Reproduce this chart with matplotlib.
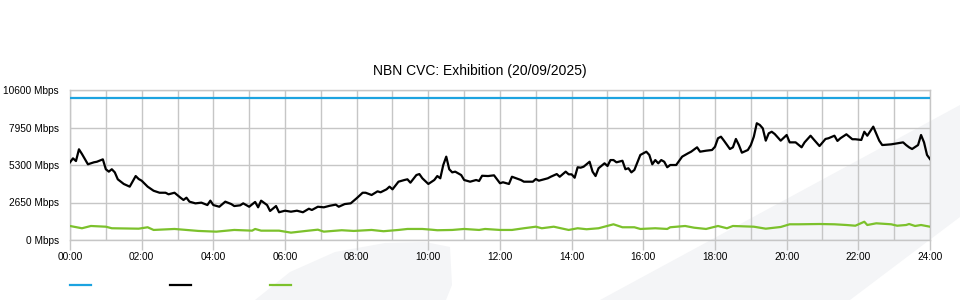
import numpy as np
import matplotlib as mp
mp.use('Agg')
import matplotlib.pyplot as plt
from matplotlib.patches import Polygon
from matplotlib.lines import Line2D
from matplotlib.ticker import MultipleLocator, FuncFormatter

plt.rcParams['font.family'] = ['Liberation Sans', 'DejaVu Sans']

title = "NBN CVC: Exhibition (20/09/2025)"

# capacity (blue), constant
cap_mbps = 10000

# traffic in (black): minutes since midnight, Mbps
t_in = [0, 5, 10, 15, 20, 30, 40, 45, 55, 60, 65, 70, 75, 80, 90, 100, 110, 115,
        120, 130, 140, 150, 160, 165, 175, 185, 190, 195, 200, 210, 220, 230, 235,
        240, 250, 260, 270, 275, 285, 290, 300, 310, 315, 320, 330, 335, 345, 350,
        360, 370, 380, 390, 400, 405, 415, 425, 435, 445, 450, 460, 470, 480, 490,
        495, 505, 515, 520, 530, 535, 540, 550, 560, 565, 570, 580, 585, 590, 600,
        610, 615, 620, 625, 630, 635, 640, 645, 655, 660, 670, 680, 685, 690, 700,
        710, 720, 725, 735, 740, 755, 760, 775, 780, 785, 800, 805, 815, 820, 830,
        835, 840, 845, 850, 855, 860, 870, 875, 880, 885, 895, 900, 905, 910, 915,
        925, 930, 935, 940, 945, 955, 965, 970, 975, 980, 985, 990, 995, 1000, 1005,
        1015, 1025, 1035, 1040, 1050, 1055, 1065, 1075, 1080, 1085, 1090, 1095,
        1105, 1110, 1115, 1120, 1125, 1135, 1140, 1145, 1150, 1155, 1160, 1165,
        1170, 1175, 1180, 1190, 1200, 1205, 1215, 1225, 1230, 1240, 1245, 1255,
        1265, 1270, 1280, 1285, 1290, 1300, 1310, 1315, 1325, 1330, 1335, 1345,
        1355, 1360, 1375, 1385, 1395, 1400, 1405, 1410, 1420, 1425, 1430, 1435, 1440]
v_in = [5490, 5770, 5580, 6410, 6080, 5350, 5490, 5530, 5700, 5000, 4830, 5000, 4780,
        4290, 3960, 3770, 4520, 4310, 4190, 3770, 3480, 3340, 3340, 3230, 3340, 2990,
        2830, 2990, 2710, 2590, 2640, 2470, 2780, 2470, 2350, 2710, 2540, 2400, 2450,
        2590, 2350, 2690, 2310, 2780, 2470, 2050, 2400, 1960, 2070, 2000, 2070, 1960,
        2210, 2120, 2350, 2310, 2420, 2500, 2350, 2540, 2590, 2950, 3340, 3340, 3180,
        3440, 3370, 3580, 3770, 3580, 4120, 4240, 4290, 4050, 4590, 4660, 4360, 3960,
        4240, 4520, 4360, 5300, 5890, 5000, 4780, 4830, 4590, 4240, 4120, 4240, 4170,
        4540, 4520, 4570, 4010, 4080, 3960, 4470, 4240, 4120, 4120, 4310, 4190, 4360,
        4470, 4660, 4470, 4830, 4640, 4640, 4400, 5140, 5110, 5180, 5530, 4830, 4520,
        5070, 5420, 5230, 5650, 5650, 5490, 5600, 5000, 5070, 4780, 4950, 6010, 6240,
        6010, 5350, 5650, 5420, 5650, 5530, 5140, 5300, 5300, 5890, 6130, 6240, 6550,
        6240, 6310, 6360, 6590, 7190, 7300, 7020, 6430, 6550, 7140, 6710, 6170, 6360,
        6710, 7300, 8250, 8130, 7890, 7020, 7540, 7650, 7490, 7020, 7420, 6900, 6900,
        6550, 6900, 7370, 7120, 6640, 7140, 7190, 7370, 7000, 7190, 7470, 7120, 7120,
        7070, 7650, 7370, 8010, 7020, 6710, 6760, 6830, 6900, 6710, 6550, 6430, 6710,
        7420, 6900, 6010, 5720]

# traffic out (green)
t_out = [0, 20, 35, 60, 70, 115, 130, 140, 175, 215, 245, 275, 305, 310, 320, 350,
         370, 395, 415, 425, 455, 475, 505, 525, 550, 565, 590, 605, 615, 640, 660,
         685, 695, 720, 740, 760, 780, 790, 810, 835, 850, 865, 885, 910, 925, 945,
         955, 980, 1000, 1005, 1030, 1045, 1065, 1085, 1100, 1110, 1145, 1165, 1190,
         1205, 1220, 1255, 1280, 1300, 1315, 1330, 1335, 1350, 1375, 1385, 1400,
         1405, 1415, 1425, 1440]
v_out = [990, 830, 990, 940, 830, 800, 900, 710, 780, 640, 590, 710, 660, 780, 660,
         660, 520, 640, 730, 590, 690, 640, 710, 620, 710, 780, 780, 730, 690, 710,
         780, 710, 780, 710, 710, 830, 940, 830, 940, 710, 830, 760, 830, 1110, 900,
         900, 780, 830, 780, 900, 990, 870, 780, 990, 830, 990, 940, 800, 920, 1110,
         1110, 1130, 1110, 1060, 1010, 1290, 1060, 1180, 1110, 1010, 1060, 1130, 990,
         1060, 940]

y_ticks = [0, 2650, 5300, 7950, 10600]

blue = '#1ca3e0'
green = '#7cc12c'
grid_c = '#c6c6c6'

fig = plt.figure(figsize=(9.6, 3.0), dpi=100)

# faint watermark swoosh in the background
wm = '#f4f5f7'
def px(pts):
    return [(x / 960., 1 - y / 300.) for x, y in pts]
fig.patches.append(Polygon(px([(255, 300), (290, 272), (335, 252), (385, 243),
                               (425, 242), (450, 247), (452, 285), (446, 300)]),
                           closed=True, transform=fig.transFigure, fc=wm, ec='none', zorder=-5))
fig.patches.append(Polygon(px([(600, 300), (960, 105), (960, 217), (850, 300)]),
                           closed=True, transform=fig.transFigure, fc=wm, ec='none', zorder=-5))

ax = fig.add_axes([70 / 960., 60 / 300., 860 / 960., 150 / 300.])
ax.set_facecolor('none')
ax.set_zorder(2)

hrs_in = np.array(t_in) / 60.
hrs_out = np.array(t_out) / 60.
ax.plot([0, 24], [cap_mbps, cap_mbps], color=blue, lw=1.6, zorder=3)
ax.plot(hrs_in, v_in, color='black', lw=1.6, zorder=4)
ax.plot(hrs_out, v_out, color=green, lw=1.6, zorder=3)

ax.set_xlim(0, 24)
ax.set_ylim(0, 10600)
ax.set_yticks(y_ticks)
ax.set_yticklabels(['%d Mbps' % v for v in y_ticks])
ax.xaxis.set_major_locator(MultipleLocator(2))
ax.xaxis.set_minor_locator(MultipleLocator(1))
ax.xaxis.set_major_formatter(FuncFormatter(lambda v, p: '%02d:00' % int(round(v))))

ax.grid(which='both', axis='x', color=grid_c, lw=1)
ax.grid(which='major', axis='y', color=grid_c, lw=1)
ax.set_axisbelow(True)
for s in ax.spines.values():
    s.set_color(grid_c)
    s.set_linewidth(1)

ax.tick_params(axis='x', which='major', length=7, width=1, color=grid_c,
               labelsize=7.3, pad=2)
ax.tick_params(axis='x', which='minor', length=0)
ax.tick_params(axis='y', length=0, labelsize=7.3, pad=8)

fig.text(0.5, 0.765, title, ha='center', va='center', fontsize=10)

# legend swatches without labels
for x0, c in [(70, blue), (170, 'black'), (270, green)]:
    fig.add_artist(Line2D([x0 / 960., (x0 + 21) / 960.], [1 - 285 / 300., 1 - 285 / 300.],
                          color=c, lw=1.6, transform=fig.transFigure))

plt.savefig("out.png", dpi=100)
